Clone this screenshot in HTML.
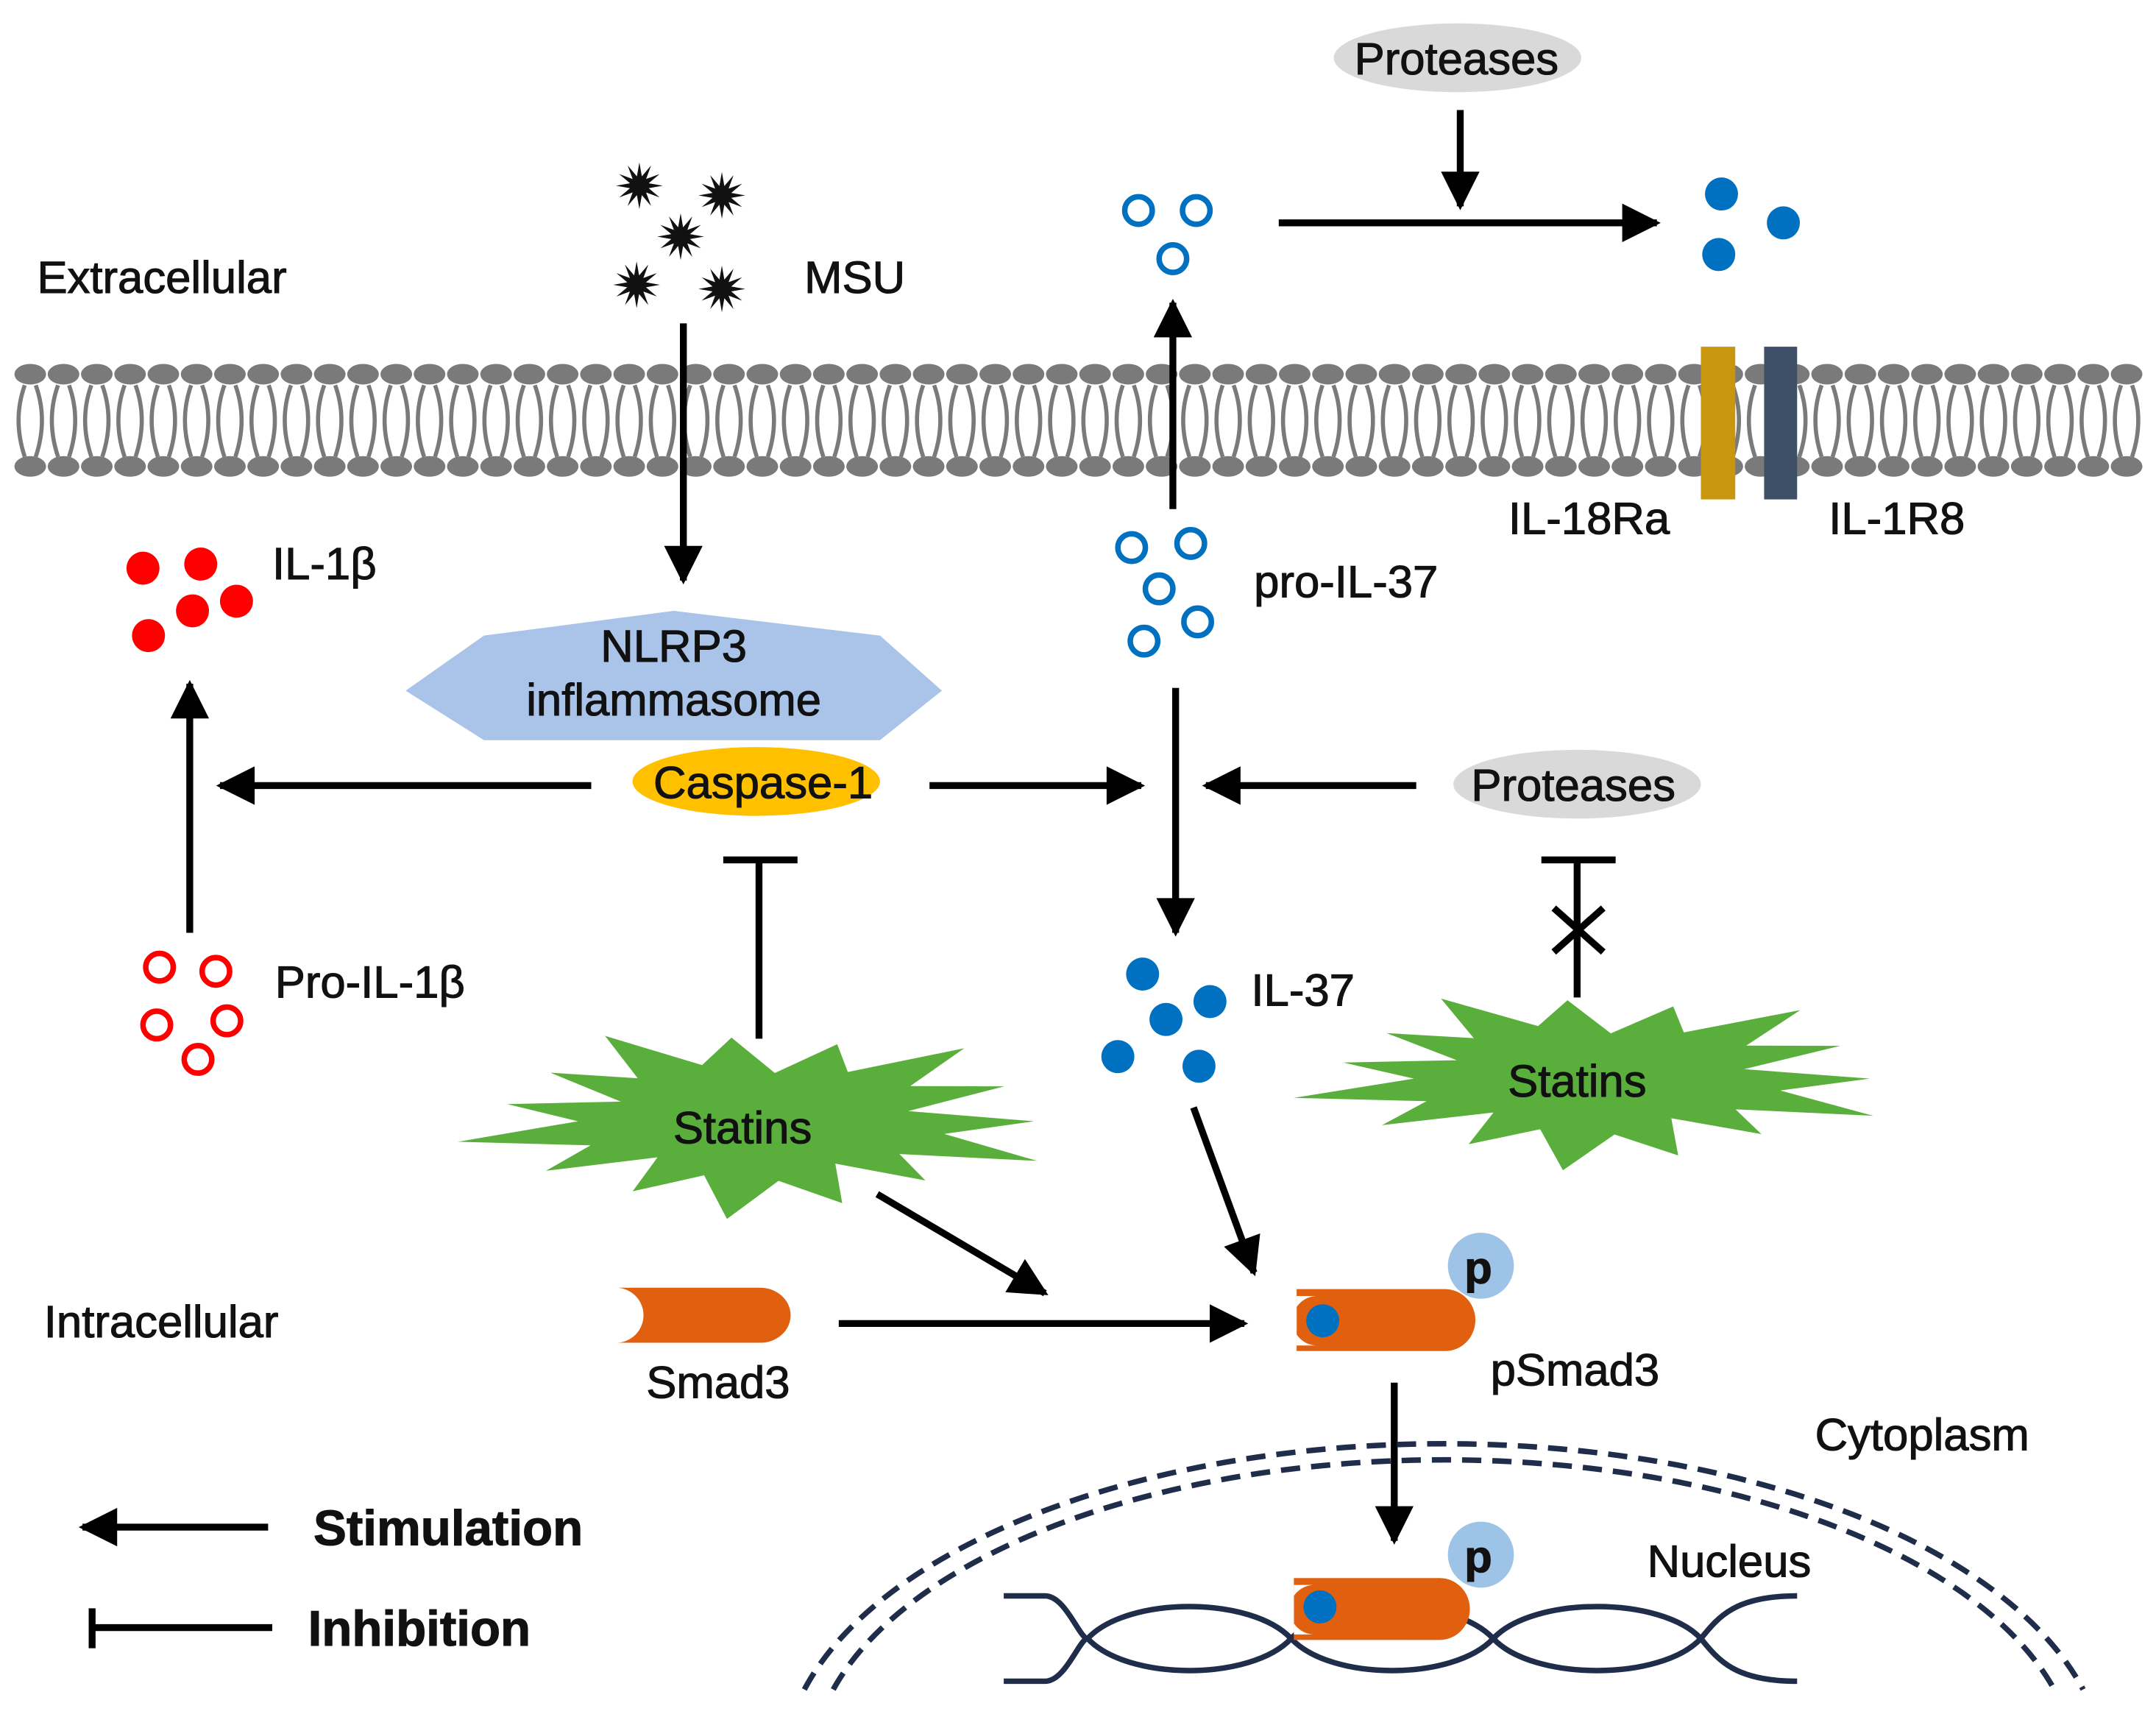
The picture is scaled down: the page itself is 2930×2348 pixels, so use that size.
<!DOCTYPE html>
<html><head><meta charset="utf-8"><style>html,body{margin:0;padding:0;background:#fff}svg{display:block}text{font-family:"Liberation Sans",Arial,sans-serif;fill:#111;stroke:#111;stroke-width:0.6}</style></head>
<body>
<svg id="s" xmlns="http://www.w3.org/2000/svg" width="2930" height="2348" viewBox="0 0 1568 1256" preserveAspectRatio="none">
<defs>
<marker id="a" viewBox="0 0 10 10" refX="9" refY="5" markerWidth="32" markerHeight="28" orient="auto" markerUnits="userSpaceOnUse"><path d="M0,0 L10,5 L0,10 z" fill="#000"/></marker>
</defs>
<rect width="1568" height="1256" fill="#fff"/>
<g id="mem"></g>
<rect x="1237" y="252" width="25" height="111" fill="#c8960f"/>
<rect x="1283" y="252" width="24" height="111" fill="#3d5068"/>
<g stroke="#000" stroke-width="5" fill="none">
<line x1="1062" y1="80" x2="1062" y2="150" marker-end="url(#a)"/>
<line x1="930" y1="162" x2="1205" y2="162" marker-end="url(#a)"/>
<line x1="497" y1="235" x2="497" y2="422" marker-end="url(#a)"/>
<line x1="853" y1="370" x2="853" y2="220" marker-end="url(#a)"/>
<line x1="430" y1="571" x2="160" y2="571" marker-end="url(#a)"/>
<line x1="676" y1="571" x2="830" y2="571" marker-end="url(#a)"/>
<line x1="855" y1="500" x2="855" y2="678" marker-end="url(#a)"/>
<line x1="1030" y1="571" x2="877" y2="571" marker-end="url(#a)"/>
<line x1="138" y1="678" x2="138" y2="497" marker-end="url(#a)"/>
<line x1="552" y1="755" x2="552" y2="625"/><line x1="526" y1="625" x2="580" y2="625"/>
<line x1="1147" y1="725" x2="1147" y2="625"/><line x1="1121" y1="625" x2="1175" y2="625"/>
<line x1="1130" y1="660" x2="1166" y2="692"/><line x1="1166" y1="660" x2="1130" y2="692"/>
<line x1="638" y1="868" x2="760" y2="940" marker-end="url(#a)"/>
<line x1="868" y1="805" x2="912" y2="925" marker-end="url(#a)"/>
<line x1="610" y1="962" x2="905" y2="962" marker-end="url(#a)"/>
<line x1="1014" y1="1005" x2="1014" y2="1120" marker-end="url(#a)"/>
<line x1="195" y1="1110" x2="60" y2="1110" marker-end="url(#a)"/>
<line x1="67" y1="1183" x2="198" y2="1183"/><line x1="67" y1="1169" x2="67" y2="1198"/>
</g>
<ellipse cx="1060" cy="42" rx="90" ry="25" fill="#d9d9d9"/>
<ellipse cx="1147" cy="570" rx="90" ry="25" fill="#d9d9d9"/>
<polygon points="295,502 352,462 490,444 640,462 685,502 640,538 352,538" fill="#a9c4e8"/>
<ellipse cx="550" cy="568" rx="90" ry="25" fill="#ffc000"/>
<g fill="none" stroke="#0070c0" stroke-width="4">
<circle cx="828" cy="153" r="10"/><circle cx="870" cy="153" r="10"/><circle cx="853" cy="188" r="10"/>
<circle cx="823" cy="398" r="10"/><circle cx="866" cy="395" r="10"/><circle cx="843" cy="428" r="10"/><circle cx="832" cy="466" r="10"/><circle cx="871" cy="452" r="10"/>
</g>
<g fill="#0070c0">
<circle cx="1252" cy="141" r="12"/><circle cx="1297" cy="162" r="12"/><circle cx="1250" cy="185" r="12"/>
<circle cx="831" cy="708" r="12"/><circle cx="880" cy="728" r="12"/><circle cx="848" cy="741" r="12"/><circle cx="813" cy="768" r="12"/><circle cx="872" cy="775" r="12"/>
</g>
<g fill="#f00"><circle cx="104" cy="413" r="12"/><circle cx="146" cy="410" r="12"/><circle cx="140" cy="444" r="12"/><circle cx="172" cy="437" r="12"/><circle cx="108" cy="462" r="12"/></g>
<g fill="none" stroke="#f00" stroke-width="4"><circle cx="116" cy="703" r="10"/><circle cx="157" cy="706" r="10"/><circle cx="114" cy="745" r="10"/><circle cx="165" cy="742" r="10"/><circle cx="144" cy="770" r="10"/></g>
<g id="stars"></g>
<path d="M448,936 H553 A22,20 0 0 1 553,976 H448 A20,20 0 0 0 448,936 z" fill="#e06010"/>
<path d="M943,937 H1051 A22,22.5 0 0 1 1051,982 H943 z" fill="#e06010"/>
<path d="M943,942 H958 A18,18 0 0 0 958,978 H943 z" fill="#fff"/>
<circle cx="962" cy="960" r="12" fill="#0070c0"/>
<circle cx="1077" cy="920" r="24" fill="#9dc3e6"/>
<g fill="none" stroke="#1f2d4a" stroke-width="4" stroke-dasharray="14,8">
<path d="M585,1228 A481,240 0 0 1 1515,1228"/>
<path d="M606,1228 A460,226 0 0 1 1494,1228"/>
</g>
<g fill="none" stroke="#1f2d4a" stroke-width="4">
<path d="M730,1160 H760 C775,1160 785,1191 791,1191 C820,1160 910,1160 939,1191 C968,1160 1057,1160 1086,1191 C1115,1160 1208,1160 1237,1191 C1250,1175 1262,1160 1307,1160"/>
<path d="M730,1222 H760 C775,1222 785,1191 791,1191 C820,1222 910,1222 939,1191 C968,1222 1057,1222 1086,1191 C1115,1222 1208,1222 1237,1191 C1250,1207 1262,1222 1307,1222"/>
</g>
<path d="M941,1147 H1047 A22,22.5 0 0 1 1047,1192 H941 z" fill="#e06010"/>
<path d="M941,1152 H956 A18,18 0 0 0 956,1188 H941 z" fill="#fff"/>
<circle cx="960" cy="1168" r="12" fill="#0070c0"/>
<circle cx="1077" cy="1130" r="24" fill="#9dc3e6"/>
<g font-size="33">
<text x="985" y="54">Proteases</text>
<text x="1070" y="582">Proteases</text>
<text x="27" y="213">Extracellular</text>
<text x="585" y="213">MSU</text>
<text x="1097" y="388">IL-18Ra</text>
<text x="1330" y="388">IL-1R8</text>
<text x="198" y="421">IL-1β</text>
<text x="912" y="434">pro-IL-37</text>
<text x="490" y="481" text-anchor="middle">NLRP3</text>
<text x="490" y="520" text-anchor="middle">inflammasome</text>
<text x="555" y="580" text-anchor="middle">Caspase-1</text>
<text x="200" y="725">Pro-IL-1β</text>
<text x="910" y="731">IL-37</text>
<text x="540" y="831" text-anchor="middle">Statins</text>
<text x="1147" y="797" text-anchor="middle">Statins</text>
<text x="32" y="972">Intracellular</text>
<text x="470" y="1016">Smad3</text>
<text x="1084" y="1007">pSmad3</text>
<text x="1320" y="1054">Cytoplasm</text>
<text x="1198" y="1146">Nucleus</text>
<text x="1065" y="933" font-weight="bold">p</text>
<text x="1065" y="1143" font-weight="bold">p</text>
<text x="228" y="1123" font-size="36" font-weight="bold">Stimulation</text>
<text x="224" y="1196" font-size="36" font-weight="bold">Inhibition</text>
</g>
</svg>
<script>
var NS="http://www.w3.org/2000/svg",m=document.getElementById('mem'),st=document.getElementById('stars');
function el(t,a,p){var e=document.createElementNS(NS,t);for(var k in a)e.setAttribute(k,a[k]);p.appendChild(e);return e;}
for(var x=22;x<1550;x+=24.2){
 el('ellipse',{cx:x,cy:272,rx:11.5,ry:7.5,fill:'#7a7a7a'},m);
 el('ellipse',{cx:x,cy:339,rx:11.5,ry:7.5,fill:'#7a7a7a'},m);
 el('path',{d:'M'+(x-4)+',280 Q'+(x-13)+',305 '+(x-4)+',332 M'+(x+4)+',280 Q'+(x+13)+',305 '+(x+4)+',332',fill:'none',stroke:'#7a7a7a','stroke-width':3},m);
}
function star(cx,cy,n,r1,r2,sx,sy,col,jit){
 var p=[];for(var i=0;i<2*n;i++){var a=Math.PI*i/n,r=(i%2?r2:r1)*(1+(jit?(Math.sin(i*7.3)*jit):0));p.push((cx+Math.cos(a)*r*sx).toFixed(1)+','+(cy+Math.sin(a)*r*sy).toFixed(1));}
 el('polygon',{points:p.join(' '),fill:col},st);
}
[[465,135],[525,142],[495,172],[463,207],[525,210]].forEach(function(c){star(c[0],c[1],12,17,7,1,1,'#111',0);});
star(552,815,15,200,125,1,0.32,'#5aaf3c',0.12);
star(1160,784,15,200,125,1,0.3,'#5aaf3c',0.12);
</script>
</body></html>
